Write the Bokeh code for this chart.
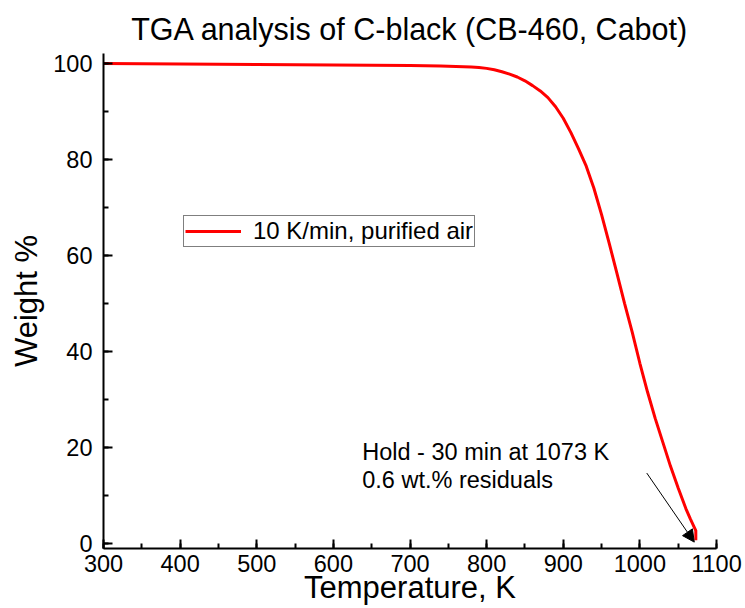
from bokeh.plotting import figure
from bokeh.models import Range1d, Legend, LegendItem, Label, Arrow, NormalHead
from bokeh.embed import file_html
from bokeh.resources import INLINE

# Data
temperature_K = [300, 400, 500, 600, 700, 740, 780, 790, 800, 810, 820, 830, 840,
                 850, 860, 870, 880, 890, 900, 910, 920, 930, 940, 950, 960,
                 970, 980, 990, 1000, 1010, 1020, 1030, 1040, 1050, 1060, 1066,
                 1073, 1073]
weight_pct = [100.0, 99.9, 99.8, 99.7, 99.6, 99.5, 99.3, 99.2, 99.0, 98.7, 98.3, 97.8, 97.2,
              96.4, 95.4, 94.3, 92.9, 91.0, 88.6, 85.6, 82.2, 78.6, 74.0, 68.5, 62.5,
              56.3, 50.0, 44.0, 37.5, 31.5, 26.0, 21.0, 16.0, 11.5, 7.2, 5.0,
              2.6, 0.6]
series_label = "10 K/min, purified air"
note_line1 = "Hold - 30 min at 1073 K"
note_line2 = "0.6 wt.% residuals"
arrow_from = (1009, 14.6)
arrow_to = (1071, 0.2)

FONT = "Liberation Sans"

p = figure(width=745, height=608, output_backend="svg", toolbar_location=None,
           x_range=Range1d(300, 1100), y_range=Range1d(-1.13, 102.1),
           min_border_left=103, min_border_right=29, min_border_top=53,
           min_border_bottom=60,
           title="TGA analysis of C-black (CB-460, Cabot)",
           x_axis_label="Temperature, K", y_axis_label="Weight %")

p.title.text_font = FONT
p.title.text_font_size = "30.5px"
p.title.text_font_style = "normal"
p.title.align = "center"
p.title.text_color = "black"
p.title.standoff = 15

p.outline_line_color = None
p.xgrid.visible = False
p.ygrid.visible = False

p.xaxis.ticker.desired_num_ticks = 9
p.xaxis.ticker.num_minor_ticks = 2
p.yaxis.ticker.desired_num_ticks = 6
p.yaxis.ticker.num_minor_ticks = 2

for ax in (p.xaxis[0], p.yaxis[0]):
    ax.axis_line_width = 2
    ax.axis_line_color = "black"
    ax.major_tick_line_width = 2
    ax.minor_tick_line_width = 2
    ax.major_tick_line_color = "black"
    ax.minor_tick_line_color = "black"
    ax.major_tick_in = 9
    ax.major_tick_out = 0
    ax.minor_tick_in = 5
    ax.minor_tick_out = 0
    ax.major_label_text_font = FONT
    ax.major_label_text_font_size = "23.5px"
    ax.major_label_text_color = "black"
    ax.axis_label_text_font = FONT
    ax.axis_label_text_font_size = "31px"
    ax.axis_label_text_font_style = "normal"
    ax.axis_label_text_color = "black"

p.xaxis.major_label_standoff = 6
p.xaxis.axis_label_standoff = -5
p.yaxis.major_label_standoff = 11
p.yaxis.axis_label_standoff = 6

r = p.line(temperature_K, weight_pct, line_color="red", line_width=3)

legend = Legend(items=[LegendItem(label=series_label, renderers=[r])],
                location=(80, 301), orientation="vertical",
                label_text_font=FONT, label_text_font_size="24px",
                label_text_color="black",
                glyph_width=56, glyph_height=20, label_height=20,
                label_standoff=12, padding=1, margin=0, spacing=0,
                border_line_color="black", border_line_width=1,
                background_fill_color="white", background_fill_alpha=1)
p.add_layout(legend, "center")

p.add_layout(Label(x=637.7, y=18.9, text=note_line1, text_font=FONT,
                   text_font_size="23.5px", text_color="black",
                   text_baseline="alphabetic"))
p.add_layout(Label(x=637.7, y=13.15, text=note_line2, text_font=FONT,
                   text_font_size="23.5px", text_color="black",
                   text_baseline="alphabetic"))

p.add_layout(Arrow(end=NormalHead(size=12, fill_color="black", line_color="black"),
                   x_start=arrow_from[0], y_start=arrow_from[1],
                   x_end=arrow_to[0], y_end=arrow_to[1],
                   line_color="black", line_width=1))

open("out.html", "w").write(file_html(p, INLINE))
